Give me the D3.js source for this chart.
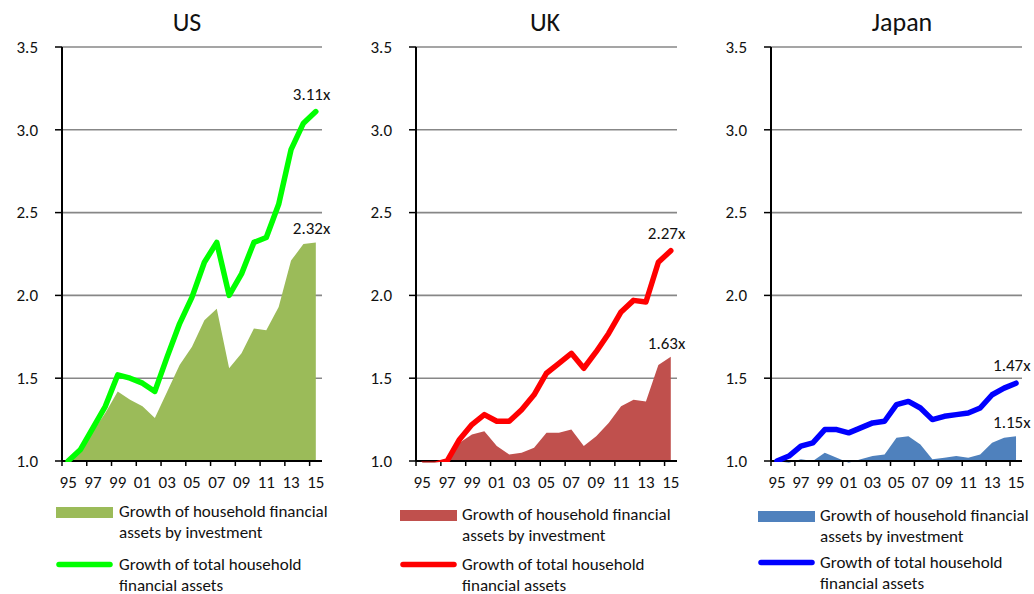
<!DOCTYPE html>
<html>
<head>
<meta charset="utf-8">
<script src="https://cdn.jsdelivr.net/npm/d3@7"></script>
<style>
  body { margin: 0; background: #fff; }
  svg text { font-family: Carlito, Calibri, Lato, sans-serif; fill: #111; }
</style>
</head>
<body>
<div id="chart"></div>
<script>
// categories (years 1995 - 2015)
var years = ['95','96','97','98','99','00','01','02','03','04','05','06','07','08','09','10','11','12','13','14','15'];

// growth of total household financial assets
var usTotal = [1.00,1.07,1.20,1.33,1.52,1.50,1.47,1.42,1.63,1.83,1.99,2.20,2.32,2.00,2.13,2.32,2.35,2.55,2.88,3.04,3.11];
var ukTotal = [0.98,0.98,1.00,1.13,1.22,1.28,1.24,1.24,1.31,1.40,1.53,1.59,1.65,1.56,1.66,1.77,1.90,1.97,1.96,2.20,2.27];
var jpTotal = [1.00,1.03,1.09,1.11,1.19,1.19,1.17,1.20,1.23,1.24,1.34,1.36,1.32,1.25,1.27,1.28,1.29,1.32,1.40,1.44,1.47];

// growth of household financial assets by investment
var usInvest = [1.00,1.06,1.18,1.29,1.42,1.37,1.33,1.26,1.42,1.58,1.69,1.85,1.92,1.56,1.65,1.80,1.79,1.93,2.21,2.31,2.32];
var ukInvest = [0.99,0.99,1.00,1.11,1.16,1.18,1.09,1.04,1.05,1.08,1.17,1.17,1.19,1.09,1.15,1.23,1.33,1.37,1.36,1.58,1.63];
var jpInvest = [1.00,0.99,1.01,1.00,1.05,1.02,0.99,1.01,1.03,1.04,1.14,1.15,1.10,1.01,1.02,1.03,1.02,1.04,1.11,1.14,1.15];

var titles = ['US', 'UK', 'Japan'];
var legendArea = ['Growth of household financial', 'assets by investment'];
var legendLine = ['Growth of total household', 'financial assets'];

// layout of the three panels
var panels = [
    {title: titles[0], total: usTotal, invest: usInvest, line: '#00ff00', fill: '#9bbb59',
     x0: 62, x1: 322, titleX: 187, legX: 56, legTextX: 119, leg1: 517, leg2: 570},
    {title: titles[1], total: ukTotal, invest: ukInvest, line: '#ff0000', fill: '#c0504d',
     x0: 416, x1: 677, titleX: 545, legX: 400, legTextX: 462, leg1: 520, leg2: 570},
    {title: titles[2], total: jpTotal, invest: jpInvest, line: '#0000ff', fill: '#4f81bd',
     x0: 771, x1: 1022, titleX: 902, legX: 758, legTextX: 820, leg1: 521, leg2: 568}
];

var width = 1034,
    height = 594,
    yTop = 47,
    yBottom = 461;

var svg = d3.select('#chart').append('svg')
    .attr('width', width)
    .attr('height', height);

var y = d3.scaleLinear().domain([1, 3.5]).range([yBottom, yTop]);
var yTicks = d3.range(1, 3.51, 0.5);

panels.forEach(function(p, pi) {
    var x = d3.scalePoint().domain(years).range([p.x0, p.x1]).padding(0.5);
    var step = x.step();
    var g = svg.append('g').attr('class', 'panel');

    // clip lines to the plot area
    svg.append('clipPath').attr('id', 'clip' + pi)
        .append('rect')
        .attr('x', p.x0).attr('y', yTop - 10)
        .attr('width', p.x1 - p.x0 + 10).attr('height', yBottom - yTop + 11);

    // title
    g.append('text')
        .attr('x', p.titleX).attr('y', 31)
        .attr('text-anchor', 'middle')
        .style('font-size', '26px')
        .text(p.title);

    // gridlines
    g.selectAll('line.grid')
        .data(yTicks.slice(1))
        .enter().append('line')
        .attr('class', 'grid')
        .attr('x1', p.x0).attr('x2', p.x1)
        .attr('y1', function(d) { return y(d); })
        .attr('y2', function(d) { return y(d); })
        .attr('stroke', '#878787')
        .attr('stroke-width', 1.6);

    // area for investment
    var area = d3.area()
        .x(function(d, i) { return x(years[i]); })
        .y0(y(1))
        .y1(function(d) { return y(d); });

    g.append('path')
        .datum(p.invest)
        .attr('d', area)
        .attr('fill', p.fill);

    // y axis + ticks
    g.append('line')
        .attr('x1', p.x0).attr('x2', p.x0)
        .attr('y1', yTop).attr('y2', yBottom)
        .attr('stroke', '#000').attr('stroke-width', 2);

    g.selectAll('line.ytick')
        .data(yTicks)
        .enter().append('line')
        .attr('class', 'ytick')
        .attr('x1', p.x0 - 7).attr('x2', p.x0)
        .attr('y1', function(d) { return y(d); })
        .attr('y2', function(d) { return y(d); })
        .attr('stroke', '#000').attr('stroke-width', 1.5);

    g.selectAll('text.ylab')
        .data(yTicks)
        .enter().append('text')
        .attr('class', 'ylab')
        .attr('x', p.x0 - 24)
        .attr('y', function(d) { return y(d); })
        .attr('dy', '0.34em')
        .attr('text-anchor', 'end')
        .style('font-size', '17px')
        .text(d3.format('.1f'));

    // x axis
    g.append('line')
        .attr('x1', p.x0).attr('x2', p.x1)
        .attr('y1', yBottom).attr('y2', yBottom)
        .attr('stroke', '#000').attr('stroke-width', 2);

    var boundaries = d3.range(0, years.length, 2);
    g.selectAll('line.xtick')
        .data(boundaries)
        .enter().append('line')
        .attr('class', 'xtick')
        .attr('x1', function(k) { return p.x0 + k * step; })
        .attr('x2', function(k) { return p.x0 + k * step; })
        .attr('y1', yBottom).attr('y2', yBottom + 5)
        .attr('stroke', '#000').attr('stroke-width', 1.5);

    g.selectAll('text.xlab')
        .data(years.filter(function(d, i) { return i % 2 === 0; }))
        .enter().append('text')
        .attr('class', 'xlab')
        .attr('x', function(d) { return x(d); })
        .attr('y', yBottom + 27)
        .attr('text-anchor', 'middle')
        .style('font-size', '17px')
        .text(function(d) { return d; });

    // total line
    var line = d3.line()
        .x(function(d, i) { return x(years[i]); })
        .y(function(d) { return y(d); });

    g.append('path')
        .datum(p.total)
        .attr('d', line)
        .attr('clip-path', 'url(#clip' + pi + ')')
        .attr('fill', 'none')
        .attr('stroke', p.line)
        .attr('stroke-width', 5.5)
        .attr('stroke-linejoin', 'round')
        .attr('stroke-linecap', 'round');

    // end value labels
    var lastX = x(years[years.length - 1]);
    var fmt = function(v) { return d3.format('.2f')(v) + 'x'; };
    g.append('text')
        .attr('x', lastX - 23)
        .attr('y', y(p.total[p.total.length - 1]) - 12)
        .style('font-size', '17px')
        .text(fmt(p.total[p.total.length - 1]));
    g.append('text')
        .attr('x', lastX - 23)
        .attr('y', y(p.invest[p.invest.length - 1]) - 8)
        .style('font-size', '17px')
        .text(fmt(p.invest[p.invest.length - 1]));

    // legend
    var leg = g.append('g').attr('class', 'legend');
    leg.append('rect')
        .attr('x', p.legX).attr('y', p.leg1 - 10)
        .attr('width', 57).attr('height', 11)
        .attr('fill', p.fill);
    leg.selectAll('text.l1')
        .data(legendArea)
        .enter().append('text')
        .attr('class', 'l1')
        .attr('x', p.legTextX)
        .attr('y', function(d, i) { return p.leg1 + i * 21; })
        .style('font-size', '17px')
        .text(function(d) { return d; });

    leg.append('line')
        .attr('x1', p.legX + 3).attr('x2', p.legX + 54)
        .attr('y1', p.leg2 - 5.5).attr('y2', p.leg2 - 5.5)
        .attr('stroke', p.line)
        .attr('stroke-width', 5.5)
        .attr('stroke-linecap', 'round');
    leg.selectAll('text.l2')
        .data(legendLine)
        .enter().append('text')
        .attr('class', 'l2')
        .attr('x', p.legTextX)
        .attr('y', function(d, i) { return p.leg2 + i * 20.5; })
        .style('font-size', '17px')
        .text(function(d) { return d; });
});
</script>
</body>
</html>
